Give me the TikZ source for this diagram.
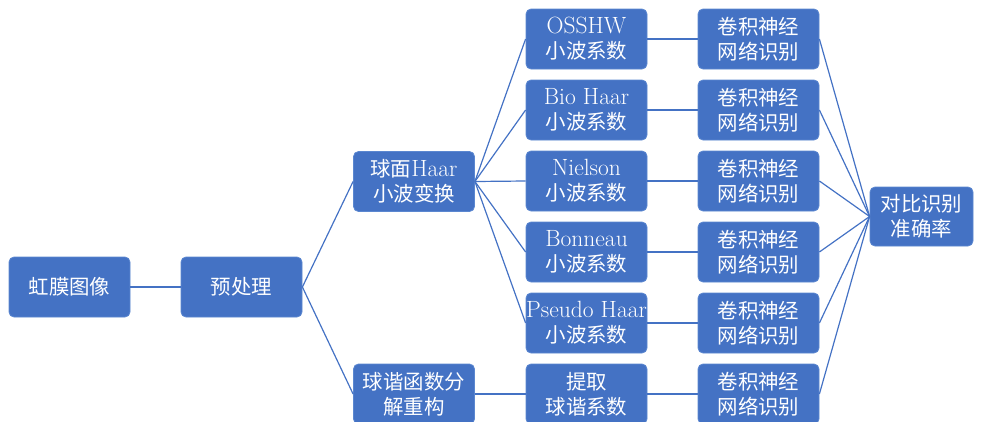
\documentclass[tikz,border=0pt]{standalone}
\usepackage{fontspec}
\newfontfamily\cjk[Scale=0.87]{Noto Sans CJK SC}
\definecolor{boxblue}{HTML}{4472C4}
\definecolor{edgeblue}{HTML}{5B87D0}
\begin{document}
\begin{tikzpicture}[x=1pt,y=-1pt,
  box/.style={fill=boxblue,draw=edgeblue,line width=0.8pt,rounded corners=5pt,
    minimum width=121pt,minimum height=60pt,inner sep=0pt,text=white,align=center,
    font=\fontsize{23.5}{25}\selectfont},
  link/.style={draw=boxblue,line width=1.2pt}]
\useasboundingbox (0,0) rectangle (983,421);
\clip (0,0) rectangle (983,421);
\node[box] (iris) at (69.5,287) {\cjk 虹膜图像};
\node[box] (pre) at (241.5,287) {\cjk 预处理};
\node[box] (haar) at (414,181.5) {{\cjk 球面}Haar\\{\cjk 小波变换}};
\node[box] (sh) at (414,394) {{\cjk 球谐函数分}\\{\cjk 解重构}};
\node[box] (w1) at (586.5,39) {OSSHW\\{\cjk 小波系数}};
\node[box] (w2) at (586.5,110) {Bio Haar\\{\cjk 小波系数}};
\node[box] (w3) at (586.5,181) {Nielson\\{\cjk 小波系数}};
\node[box] (w4) at (586.5,252) {Bonneau\\{\cjk 小波系数}};
\node[box] (w5) at (586.5,323) {Pseudo Haar\\{\cjk 小波系数}};
\node[box] (w6) at (586.5,394) {{\cjk 提取}\\{\cjk 球谐系数}};
\foreach \i/\y in {1/39,2/110,3/181,4/252,5/323,6/394}
  \node[box] (c\i) at (758.5,\y) {{\cjk 卷积神经}\\{\cjk 网络识别}};
\node[box,minimum width=103pt,minimum height=59pt] (res) at (921.5,216.5) {{\cjk 对比识别}\\{\cjk 准确率}};
\draw[link] (iris.east) -- (pre.west);
\draw[link] (pre.east) -- (haar.west);
\draw[link] (pre.east) -- (sh.west);
\foreach \i in {1,...,5} \draw[link] (haar.east) -- (w\i.west);
\draw[link] (sh.east) -- (w6.west);
\foreach \i in {1,...,6} {
  \draw[link] (w\i.east) -- (c\i.west);
  \draw[link] (c\i.east) -- (res.west);
}
\end{tikzpicture}
\end{document}
